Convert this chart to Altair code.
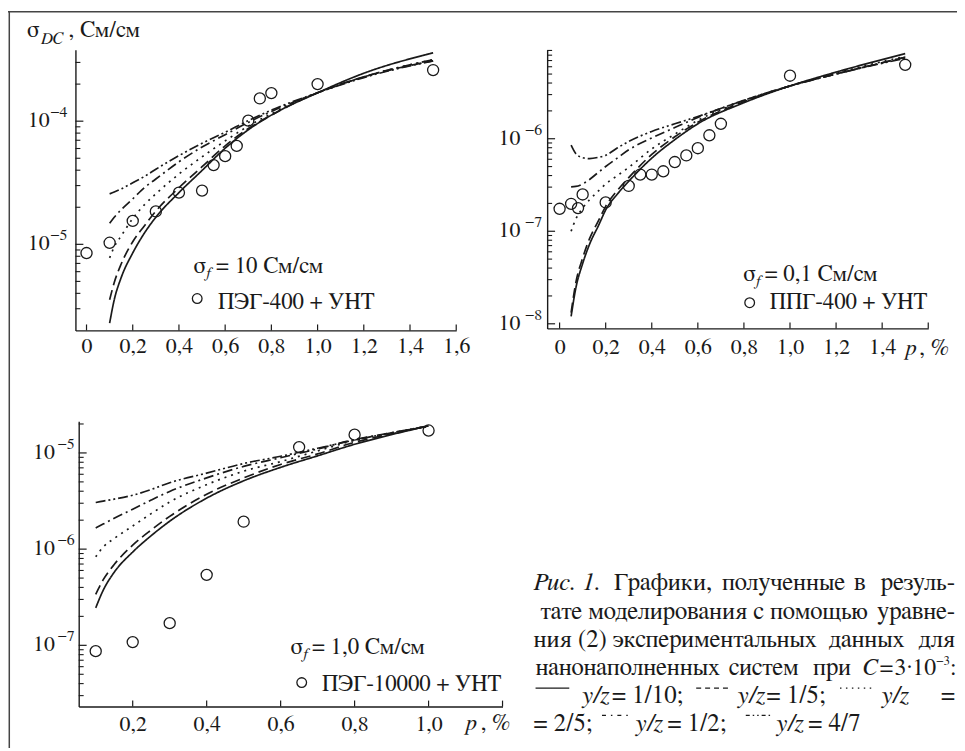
import altair as alt
import pandas as pd
import math

FONT = "FreeSerif"
INK = "#1a1a1a"
W, H = 957, 743

# ---------------- data ----------------
YZ = ["1/10", "1/5", "2/5", "1/2", "4/7"]
DASHES = [[1, 0], [10, 5], [2, 5], [10, 4, 2, 4], [10, 3, 2, 3, 2, 3]]

A_exp_p = [0, 0.1, 0.2, 0.3, 0.4, 0.5, 0.55, 0.6, 0.65, 0.7, 0.75, 0.8, 1.0, 1.5]
A_exp_s = [8.5e-6, 1.03e-5, 1.55e-5, 1.85e-5, 2.63e-5, 2.73e-5, 4.4e-5, 5.2e-5,
           6.3e-5, 1.01e-4, 1.53e-4, 1.69e-4, 2.0e-4, 2.6e-4]
A_fit_p = [0.1, 0.12, 0.15, 0.2, 0.25, 0.3, 0.4, 0.5, 0.6, 0.7, 0.8, 1.0, 1.2, 1.5]
A_fit_1_10 = [2.29e-6, 3.55e-6, 5.37e-6, 8.51e-6, 1.23e-5, 1.66e-5, 2.63e-5, 3.98e-5,
              6.03e-5, 8.51e-5, 1.12e-4, 1.70e-4, 2.45e-4, 3.59e-4]
A_fit_1_5 = [3.55e-6, 4.9e-6, 6.92e-6, 1.05e-5, 1.41e-5, 1.86e-5, 2.88e-5, 4.27e-5,
             6.31e-5, 8.71e-5, 1.12e-4, 1.70e-4, 2.29e-4, 3.09e-4]
A_fit_2_5 = [7.76e-6, 9.55e-6, 1.17e-5, 1.62e-5, 2.09e-5, 2.57e-5, 3.72e-5, 5.13e-5,
             6.92e-5, 9.12e-5, 1.15e-4, 1.70e-4, 2.29e-4, 3.16e-4]
A_fit_1_2 = [1.48e-5, 1.66e-5, 1.91e-5, 2.34e-5, 2.88e-5, 3.39e-5, 4.68e-5, 6.17e-5,
             7.76e-5, 9.77e-5, 1.20e-4, 1.70e-4, 2.29e-4, 3.16e-4]
A_fit_4_7 = [2.57e-5, 2.66e-5, 2.82e-5, 3.16e-5, 3.55e-5, 4.07e-5, 5.25e-5, 6.61e-5,
             8.13e-5, 1.01e-4, 1.23e-4, 1.70e-4, 2.26e-4, 3.09e-4]
A_xticks = [0, 0.2, 0.4, 0.6, 0.8, 1.0, 1.2, 1.4, 1.6]
A_xlabels = [0, 0.2, 0.4, 0.6, 0.8, 1.0, 1.2, 1.4, 1.6]
A_ymajor = [1e-5, 1e-4]

B_exp_p = [0, 0.05, 0.08, 0.1, 0.2, 0.3, 0.35, 0.4, 0.45, 0.5, 0.55, 0.6, 0.65, 0.7, 1.0, 1.5]
B_exp_s = [1.75e-7, 1.98e-7, 1.78e-7, 2.5e-7, 2.05e-7, 3.09e-7, 4.1e-7, 4.1e-7, 4.45e-7,
           5.6e-7, 6.6e-7, 7.9e-7, 1.09e-6, 1.45e-6, 4.8e-6, 6.3e-6]
B_fit_p = [0.05, 0.07, 0.1, 0.13, 0.17, 0.2, 0.25, 0.3, 0.4, 0.5, 0.6, 0.8, 1.0, 1.2, 1.5]
B_fit_1_10 = [1.20e-8, 2.40e-8, 4.47e-8, 7.24e-8, 1.17e-7, 1.70e-7, 2.51e-7, 3.47e-7,
              6.17e-7, 9.77e-7, 1.45e-6, 2.45e-6, 3.72e-6, 5.25e-6, 8.32e-6]
B_fit_1_5 = [1.32e-8, 2.75e-8, 5.13e-8, 8.32e-8, 1.32e-7, 1.86e-7, 2.75e-7, 3.80e-7,
             6.76e-7, 1.05e-6, 1.51e-6, 2.51e-6, 3.72e-6, 5.01e-6, 7.59e-6]
B_fit_2_5 = [1.0e-7, 1.35e-7, 1.78e-7, 2.19e-7, 2.75e-7, 3.24e-7, 3.98e-7, 4.90e-7,
             7.76e-7, 1.12e-6, 1.58e-6, 2.57e-6, 3.72e-6, 5.13e-6, 7.76e-6]
B_fit_1_2 = [3.02e-7, 3.05e-7, 3.24e-7, 3.63e-7, 4.37e-7, 5.01e-7, 6.17e-7, 7.59e-7,
             1.02e-6, 1.32e-6, 1.70e-6, 2.60e-6, 3.72e-6, 5.01e-6, 7.59e-6]
B_fit_4_7 = [8.51e-7, 6.92e-7, 6.24e-7, 6.10e-7, 6.31e-7, 6.61e-7, 7.94e-7, 9.33e-7,
             1.20e-6, 1.45e-6, 1.74e-6, 2.60e-6, 3.72e-6, 5.01e-6, 7.41e-6]
B_xticks = [0, 0.2, 0.4, 0.6, 0.8, 1.0, 1.2, 1.4, 1.6]
B_xlabels = [0, 0.2, 0.4, 0.6, 0.8, 1.0, 1.2, 1.4]
B_ymajor = [1e-8, 1e-7, 1e-6]

C_exp_p = [0.1, 0.2, 0.3, 0.4, 0.5, 0.65, 0.8, 1.0]
C_exp_s = [8.7e-8, 1.08e-7, 1.7e-7, 5.4e-7, 1.93e-6, 1.15e-5, 1.55e-5, 1.71e-5]
C_fit_p = [0.1, 0.12, 0.15, 0.2, 0.25, 0.3, 0.4, 0.5, 0.6, 0.7, 0.8, 0.9, 1.0]
C_fit_1_10 = [2.45e-7, 3.72e-7, 5.75e-7, 9.33e-7, 1.38e-6, 1.95e-6, 3.39e-6, 5.13e-6,
              7.08e-6, 9.33e-6, 1.23e-5, 1.55e-5, 1.91e-5]
C_fit_1_5 = [3.39e-7, 4.79e-7, 6.92e-7, 1.10e-6, 1.58e-6, 2.19e-6, 3.72e-6, 5.50e-6,
             7.59e-6, 9.77e-6, 1.29e-5, 1.58e-5, 1.91e-5]
C_fit_2_5 = [8.32e-7, 1.05e-6, 1.29e-6, 1.74e-6, 2.34e-6, 3.09e-6, 4.68e-6, 6.46e-6,
             8.13e-6, 1.05e-5, 1.35e-5, 1.62e-5, 1.91e-5]
C_fit_1_2 = [1.66e-6, 1.82e-6, 2.09e-6, 2.60e-6, 3.24e-6, 3.98e-6, 5.50e-6, 7.24e-6,
             8.91e-6, 1.10e-5, 1.38e-5, 1.62e-5, 1.91e-5]
C_fit_4_7 = [3.05e-6, 3.16e-6, 3.31e-6, 3.63e-6, 4.17e-6, 4.90e-6, 6.17e-6, 7.76e-6,
             9.23e-6, 1.12e-5, 1.36e-5, 1.62e-5, 1.88e-5]
C_xticks = [0.2, 0.4, 0.6, 0.8, 1.0, 1.2]
C_xlabels = [0.2, 0.4, 0.6, 0.8, 1.0]
C_ymajor = [1e-7, 1e-6, 1e-5]

MINOR_MULT = [2, 3, 4, 5, 6, 7, 8, 9]

ONE = alt.Data(values=[{}])
LABEL_EXPR = "datum.value == 0 ? '0' : replace(format(datum.value, '.1f'), '.', ',')"


def minors(lo, hi):
    out = []
    for e in range(-10, 0):
        for m in MINOR_MULT:
            v = m * 10.0 ** e
            if lo * 1.02 < v < hi:
                out.append(v)
    return out


def panel(fit_p, fits, exp_p, exp_s, xdom, xrng, ydom, yrng, xticks, xlabels,
          ymajor, x_off, y_off, lab_pad, base_dx, exp_dx, annots):
    xs = alt.Scale(domain=xdom, range=xrng, nice=False, zero=False)
    ys = alt.Scale(type="log", domain=ydom, range=yrng, nice=False)
    X = alt.X("p:Q", scale=xs, title=None,
              axis=alt.Axis(orient="bottom", offset=x_off, values=xlabels, ticks=False,
                            tickSize=0, grid=False, labelExpr=LABEL_EXPR, labelFont=FONT,
                            labelFontSize=22, labelColor=INK, labelPadding=lab_pad,
                            labelBaseline="alphabetic", labelFlush=False,
                            labelOverlap=False, domainColor=INK, domainWidth=1.4,
                            title=None))
    Y = alt.Y("s:Q", scale=ys, title=None,
              axis=alt.Axis(orient="left", offset=y_off, labels=False, ticks=False,
                            grid=False, domainColor=INK, domainWidth=1.4, title=None))

    rows = []
    for yz, vals in zip(YZ, fits):
        for p, s in zip(fit_p, vals):
            rows.append({"p": p, "s": s, "yz": yz})
    fit_df = pd.DataFrame(rows)
    lines = alt.Chart(fit_df).mark_line(interpolate="monotone", strokeWidth=1.7,
                                        color=INK).encode(
        x=X, y=Y,
        strokeDash=alt.StrokeDash("yz:N", scale=alt.Scale(domain=YZ, range=DASHES),
                                  legend=None))
    exp_df = pd.DataFrame({"p": exp_p, "s": exp_s})
    pts = alt.Chart(exp_df).mark_point(shape="circle", filled=False, size=125,
                                       strokeWidth=1.3, color=INK, opacity=1).encode(x=X, y=Y)

    xt = alt.Chart(pd.DataFrame({"p": xticks})).mark_rule(
        y2Offset=-6, color=INK, strokeWidth=1.2).encode(
        x=X, y=alt.datum(ydom[0]), y2=alt.datum(ydom[0]))
    yt_min = alt.Chart(pd.DataFrame({"s": minors(ydom[0], ydom[1])})).mark_rule(
        x2Offset=5, color=INK, strokeWidth=1.1).encode(
        y=Y, x=alt.datum(xdom[0]), x2=alt.datum(xdom[0]))
    maj_df = pd.DataFrame({"s": ymajor,
                           "base": ["10"] * len(ymajor),
                           "ex": ["\u2212" + str(int(round(-math.log10(v)))) for v in ymajor]})
    yt_maj = alt.Chart(maj_df).mark_rule(x2Offset=8, color=INK, strokeWidth=1.2).encode(
        y=Y, x=alt.datum(xdom[0]), x2=alt.datum(xdom[0]))
    ylab = alt.Chart(maj_df).mark_text(align="right", baseline="middle", dx=base_dx,
                                       dy=-1, font=FONT, fontSize=22, color=INK).encode(
        y=Y, x=alt.datum(xdom[0]), text="base:N")
    yexp = alt.Chart(maj_df).mark_text(align="right", baseline="middle", dx=exp_dx,
                                       dy=-9, font=FONT, fontSize=16, color=INK).encode(
        y=Y, x=alt.datum(xdom[0]), text="ex:N")

    layers = [lines, pts, xt, yt_min, yt_maj, ylab, yexp]
    for a in annots:
        kind = a[0]
        if kind == "pt":
            _, xv, yv = a
            layers.append(alt.Chart(ONE).mark_point(shape="circle", filled=False, size=95,
                                                    strokeWidth=1.3, color=INK, opacity=1)
                          .encode(x=alt.datum(xv), y=alt.datum(yv)))
        else:
            _, xv, yv, text, dx, dy, size, style = a
            layers.append(alt.Chart(ONE).mark_text(text=text, dx=dx, dy=dy, fontSize=size,
                                                   fontStyle=style, font=FONT, color=INK,
                                                   align="left", baseline="alphabetic")
                          .encode(x=alt.datum(xv), y=alt.datum(yv)))
    return alt.layer(*layers)


A_ydom = [2.0e-6, 3.8e-4]
pA = panel(A_fit_p, [A_fit_1_10, A_fit_1_5, A_fit_2_5, A_fit_1_2, A_fit_4_7],
           A_exp_p, A_exp_s, [-0.048, 1.6], [68, 452], A_ydom, [322, 39],
           A_xticks, A_xlabels, A_ymajor, -(H - 322), -68, 22, -26, -8,
           [("t", 0.462, 5.87e-6, "σ", 0, 0, 24, "normal"),
            ("t", 0.462, 5.87e-6, "f", 12, 5, 16, "italic"),
            ("t", 0.462, 5.87e-6, "= 10 См/см", 23, 0, 23, "normal"),
            ("pt", 0.479, 3.63e-6),
            ("t", 0.462, 5.87e-6, "ПЭГ-400 + УНТ", 25, 36, 23, "normal"),
            ("t", -0.048, 3.8e-4, "σ", -49, -13, 24, "normal"),
            ("t", -0.048, 3.8e-4, "DC", -35, -6, 17, "italic"),
            ("t", -0.048, 3.8e-4, ", См/см", -7, -13, 23, "normal")])

B_ydom = [8.91e-9, 9.15e-6]
pB = panel(B_fit_p, [B_fit_1_10, B_fit_1_5, B_fit_2_5, B_fit_1_2, B_fit_4_7],
           B_exp_p, B_exp_s, [-0.054, 1.6], [543.7, 928], B_ydom, [320, 39],
           B_xticks, B_xlabels, B_ymajor, -(H - 320), -543.7, 25, -27, -5,
           [("t", 0.796, 2.91e-8, "σ", 0, 0, 24, "normal"),
            ("t", 0.796, 2.91e-8, "f", 12, 5, 16, "italic"),
            ("t", 0.796, 2.91e-8, "= 0,1 См/см", 22, 0, 23, "normal"),
            ("pt", 0.825, 1.69e-8),
            ("t", 0.796, 2.91e-8, "ППГ-400 + УНТ", 27, 28, 23, "normal"),
            ("t", 1.6, 8.91e-9, "p", -23, 27, 23, "italic"),
            ("t", 1.6, 8.91e-9, ", %", -9, 27, 23, "normal")])

C_ydom = [2.31e-8, 2.13e-5]
pC = panel(C_fit_p, [C_fit_1_10, C_fit_1_5, C_fit_2_5, C_fit_1_2, C_fit_4_7],
           C_exp_p, C_exp_s, [0.054, 1.2], [71.3, 498.7], C_ydom, [701.3, 413.7],
           C_xticks, C_xlabels, C_ymajor, -(H - 701.3), -71.3, 24, -24, -4,
           [("t", 0.626, 8.03e-8, "σ", 0, 0, 24, "normal"),
            ("t", 0.626, 8.03e-8, "f", 12, 5, 16, "italic"),
            ("t", 0.626, 8.03e-8, "= 1,0 См/см", 22, 0, 23, "normal"),
            ("pt", 0.657, 4.1e-8),
            ("t", 0.626, 8.03e-8, "ПЭГ-10000 + УНТ", 32, 37, 23, "normal"),
            ("t", 1.2, 2.31e-8, "p", -37, 24, 23, "italic"),
            ("t", 1.2, 2.31e-8, ", %", -22, 24, 23, "normal")])


def ctext(x, y, text, size=25, style="normal", align="left"):
    return alt.Chart(ONE).mark_text(text=text, fontSize=size, fontStyle=style, font=FONT,
                                    color=INK, align=align, baseline="alphabetic").encode(
        x=alt.value(x), y=alt.value(y))


def csample(x1, x2, y, dash):
    return alt.Chart(ONE).mark_rule(strokeDash=dash, strokeWidth=1.2, color=INK).encode(
        x=alt.value(x1), x2=alt.value(x2), y=alt.value(y))


R = 955
caption = [
    ctext(530, 584, "Рис. 1.", style="italic"),
    ctext(611, 584, "Графики,"),
    ctext(782, 584, "полученные", align="center"),
    ctext(859, 584, "в", align="center"),
    ctext(R, 584, "резуль-", align="right"),
    ctext(537, 613, "тате моделирования с помощью"),
    ctext(R, 613, "уравне-", align="right"),
    ctext(530, 641, "ния (2) экспериментальных"),
    ctext(866, 641, "данных", align="center"),
    ctext(R, 641, "для", align="right"),
    ctext(532, 669, "нанонаполненных"),
    ctext(762, 669, "систем", align="center"),
    ctext(831, 669, "при", align="center"),
    ctext(862, 669, "C", size=24, style="italic"),
    ctext(879, 669, "=", size=24),
    ctext(894, 669, "3·10", size=24),
    ctext(936, 659, "\u22123", size=13),
    ctext(950, 669, ":", size=24),
    csample(532, 566, 682.7, [1, 0]),
    ctext(578, 698, "y/z", style="italic"),
    ctext(609, 698, "= 1/10;"),
    csample(694, 727, 682.7, [5, 4]),
    ctext(735, 698, "y/z", style="italic"),
    ctext(765, 698, "= 1/5;"),
    csample(839, 872, 682.7, [1.5, 4.5]),
    ctext(880, 698, "y/z", style="italic"),
    ctext(R, 698, "=", align="right"),
    ctext(530, 726, "= 2/5;"),
    csample(599, 625, 710.3, [4, 5, 1.5, 5]),
    ctext(632, 726, "y/z", style="italic"),
    ctext(665, 726, "= 1/2;"),
    csample(744, 770, 710.3, [4, 3, 1.5, 3, 1.5, 3]),
    ctext(774, 726, "y/z", style="italic"),
    ctext(807, 726, "= 4/7"),
]

frame = [
    alt.Chart(ONE).mark_rule(color="#444", strokeWidth=1.5).encode(
        x=alt.value(1.3), y=alt.value(0), y2=alt.value(H)),
    alt.Chart(ONE).mark_rule(color="#444", strokeWidth=1.5).encode(
        x=alt.value(0), x2=alt.value(W), y=alt.value(0.75)),
]

chart = alt.layer(pA, pB, pC, *caption, *frame).resolve_scale(
    x="independent", y="independent"
).properties(
    width=W, height=H, padding=0, autosize=alt.AutoSizeParams(type="none"),
    background="white"
).configure_view(stroke=None).configure_axis(grid=False)

chart.save("out.html", embed_options={"renderer": "svg", "actions": False})
